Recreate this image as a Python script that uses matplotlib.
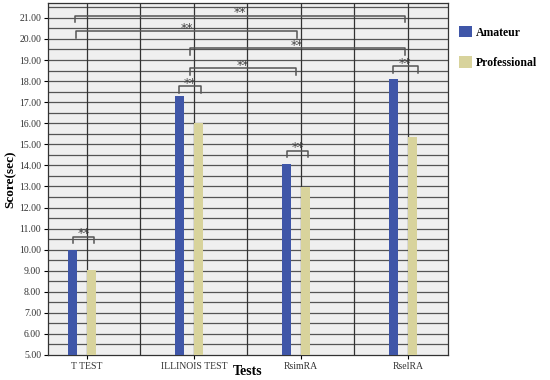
import numpy as np
import matplotlib
matplotlib.use("Agg")
import matplotlib.pyplot as plt

plt.rcParams['font.family'] = ['Liberation Serif', 'DejaVu Serif']

tests = ["T TEST", "ILLINOIS TEST", "RsimRA", "RselRA"]
amateur = [9.98, 17.27, 14.08, 18.12]
professional = [9.05, 16.0, 12.98, 15.33]

# significance brackets: (x_start, x_end, y_line, label)
brackets = [
    (-0.11, 2.97, 21.11, "**"),
    (-0.10, 1.96, 20.36, "**"),
    (0.96, 2.97, 19.56, "**"),
    (0.96, 1.95, 18.60, "**"),
    (0.86, 1.07, 17.75, "**"),
    (1.87, 2.07, 14.70, "**"),
    (2.86, 3.09, 18.70, "**"),
    (-0.13, 0.065, 10.60, "**"),
]

blue = "#3f56a8"
beige = "#d8d39c"

fig = plt.figure(figsize=(5.5, 3.8), dpi=100)
ax = fig.add_axes([0.0873, 0.0658, 0.7272, 0.926])
ax.set_facecolor("#efefef")

x = np.arange(len(tests))
w = 0.088
ax.bar(x - 0.178, amateur, width=w, align='edge', color=blue, zorder=3, label="Amateur")
ax.bar(x, professional, width=w, align='edge', color=beige, zorder=3, label="Professional")

ax.set_ylim(5, 21.7)
ax.set_xlim(-0.364, 3.374)

# grid
for yv in np.arange(5.5, 21.6, 0.5):
    ax.axhline(yv, color="#555555", lw=0.9, zorder=1)
for xv in [0, 0.5, 1, 1.5, 2, 2.5, 3]:
    ax.axvline(xv, color="#333333", lw=0.9, zorder=1)

for x0, x1, yl, lab in brackets:
    d = 0.3
    ax.plot([x0, x0, x1, x1], [yl - d, yl, yl, yl - d], color="#555555", lw=1.1, zorder=4)
    ax.text((x0 + x1) / 2, yl + 0.15, lab, ha='center', va='center', fontsize=9,
            family='DejaVu Sans', color="#444444", zorder=4)

ax.set_yticks(np.arange(5, 22, 1))
ax.set_yticklabels([f"{v:.2f}" for v in np.arange(5, 22, 1)], fontsize=7, color="#333333")
ax.set_xticks(x)
ax.set_xticklabels(tests, fontsize=7, color="#333333")
ax.tick_params(axis='both', length=3, width=0.8, pad=2)
for s in ax.spines.values():
    s.set_color("#333333")
    s.set_linewidth(0.9)

fig.text(0.451, 0.006, "Tests", ha='center', va='bottom', fontsize=10, fontweight='bold')
ax.set_ylabel("Score(sec)", fontsize=9.5, fontweight='bold', labelpad=2)

leg = ax.legend(loc='upper left', bbox_to_anchor=(1.0, 0.965), frameon=False,
                prop={'weight': 'bold', 'size': 8.5}, handlelength=1.1, handleheight=1.1,
                labelspacing=1.5, handletextpad=0.4)

fig.savefig("out.png", dpi=100)
